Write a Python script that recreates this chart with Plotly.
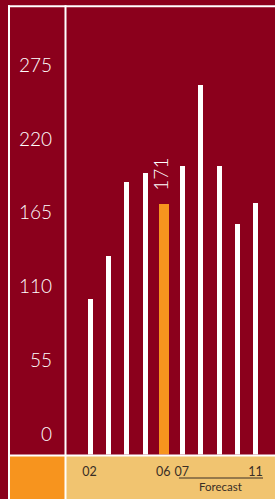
import plotly.graph_objects as go

# ---- data ----
years = ["02", "03", "04", "05", "06", "07", "08", "09", "10", "11"]
values = [100, 132, 187, 194, 171, 199, 260, 199, 156, 172]
highlight = "06"
x_tick_labels = ["02", "", "", "", "06", "07", "", "", "", "11"]
y_tick_values = [0, 55, 110, 165, 220, 275]
forecast_label = "Forecast"
forecast_years = ["07", "11"]

# ---- style ----
W, H = 275, 499
RED = "#8B001C"
ORANGE = "#F7941E"
TAN = "#F1C470"
WHITE = "#FFFFFF"
DARK = "#3A2E26"
FONT = "Lato"

Y_MIN, Y_MAX = -16.0, 317.9
X_MIN, X_MAX = -1.25, 10.06
BASE = -20


def px(x):
    return x / W


def py(y):
    return 1 - y / H


colors = [ORANGE if y == highlight else WHITE for y in years]
widths = [0.54 if y == highlight else 0.27 for y in years]

fig = go.Figure()
fig.add_trace(go.Bar(
    x=years,
    y=[v - BASE for v in values],
    base=BASE,
    width=widths,
    marker=dict(color=colors, line=dict(width=0)),
    hoverinfo="skip",
))

shapes = []
# lower boxes
shapes.append(dict(type="rect", xref="paper", yref="paper", x0=px(9), x1=px(65.5), y0=py(499), y1=py(455.5),
                   fillcolor=ORANGE, line=dict(width=0), layer="below"))
shapes.append(dict(type="rect", xref="paper", yref="paper", x0=px(65.5), x1=px(275), y0=py(499), y1=py(455.5),
                   fillcolor=TAN, line=dict(width=0), layer="below"))
# white frame lines
line_w = dict(color=WHITE, width=2)
shapes.append(dict(type="line", xref="paper", yref="paper", x0=px(8), x1=px(275), y0=py(6.2), y1=py(6.2), line=line_w))
shapes.append(dict(type="line", xref="paper", yref="paper", x0=px(8), x1=px(275), y0=py(455.5), y1=py(455.5), line=line_w))
shapes.append(dict(type="line", xref="paper", yref="paper", x0=px(9), x1=px(9), y0=py(5.2), y1=py(499), line=line_w))
shapes.append(dict(type="line", xref="paper", yref="paper", x0=px(65.5), x1=px(65.5), y0=py(5.2), y1=py(499), line=line_w))
# forecast bracket line
i0 = years.index(forecast_years[0])
i1 = years.index(forecast_years[1])
shapes.append(dict(type="line", xref="x", yref="paper", x0=i0 - 0.15, x1=i1 + 0.41, y0=py(478), y1=py(478),
                   line=dict(color=DARK, width=1)))

annotations = []
for v in y_tick_values:
    annotations.append(dict(x=px(53.5), xref="paper", y=v, yref="y", text=str(v), showarrow=False,
                            xanchor="right", yanchor="middle",
                            font=dict(family=FONT, size=19, color=WHITE, weight=300)))
hi = years.index(highlight)
annotations.append(dict(x=hi, xref="x", y=values[hi], yref="y", text=str(values[hi]), showarrow=False,
                        textangle=-90, xanchor="center", yanchor="bottom", yshift=11, xshift=-3,
                        font=dict(family=FONT, size=19, color=WHITE, weight=300)))
annotations.append(dict(x=(i0 - 0.15 + i1 + 0.41) / 2, xref="x", y=py(486.5), yref="paper", text=forecast_label,
                        showarrow=False, xanchor="center", yanchor="middle",
                        font=dict(family=FONT, size=11.5, color=DARK)))

fig.update_layout(
    width=W, height=H,
    margin=dict(l=0, r=0, t=0, b=0),
    paper_bgcolor=RED,
    plot_bgcolor=RED,
    showlegend=False,
    bargap=0,
    shapes=shapes,
    annotations=annotations,
    xaxis=dict(
        domain=[px(66.5), 1],
        type="category",
        range=[X_MIN, X_MAX],
        tickmode="array",
        tickvals=years,
        ticktext=x_tick_labels,
        ticks="",
        showgrid=False, zeroline=False, showline=False,
        tickfont=dict(family=FONT, size=12.5, color=DARK),
        ticklabelstandoff=8,
    ),
    yaxis=dict(
        domain=[py(454.5), py(7)],
        range=[Y_MIN, Y_MAX],
        showgrid=False, zeroline=False, showline=False,
        showticklabels=False, ticks="",
    ),
)

fig.write_html(
    "out.html",
    config={"displayModeBar": False},
    post_script="document.body.style.margin='0';document.body.style.overflow='hidden';",
)
